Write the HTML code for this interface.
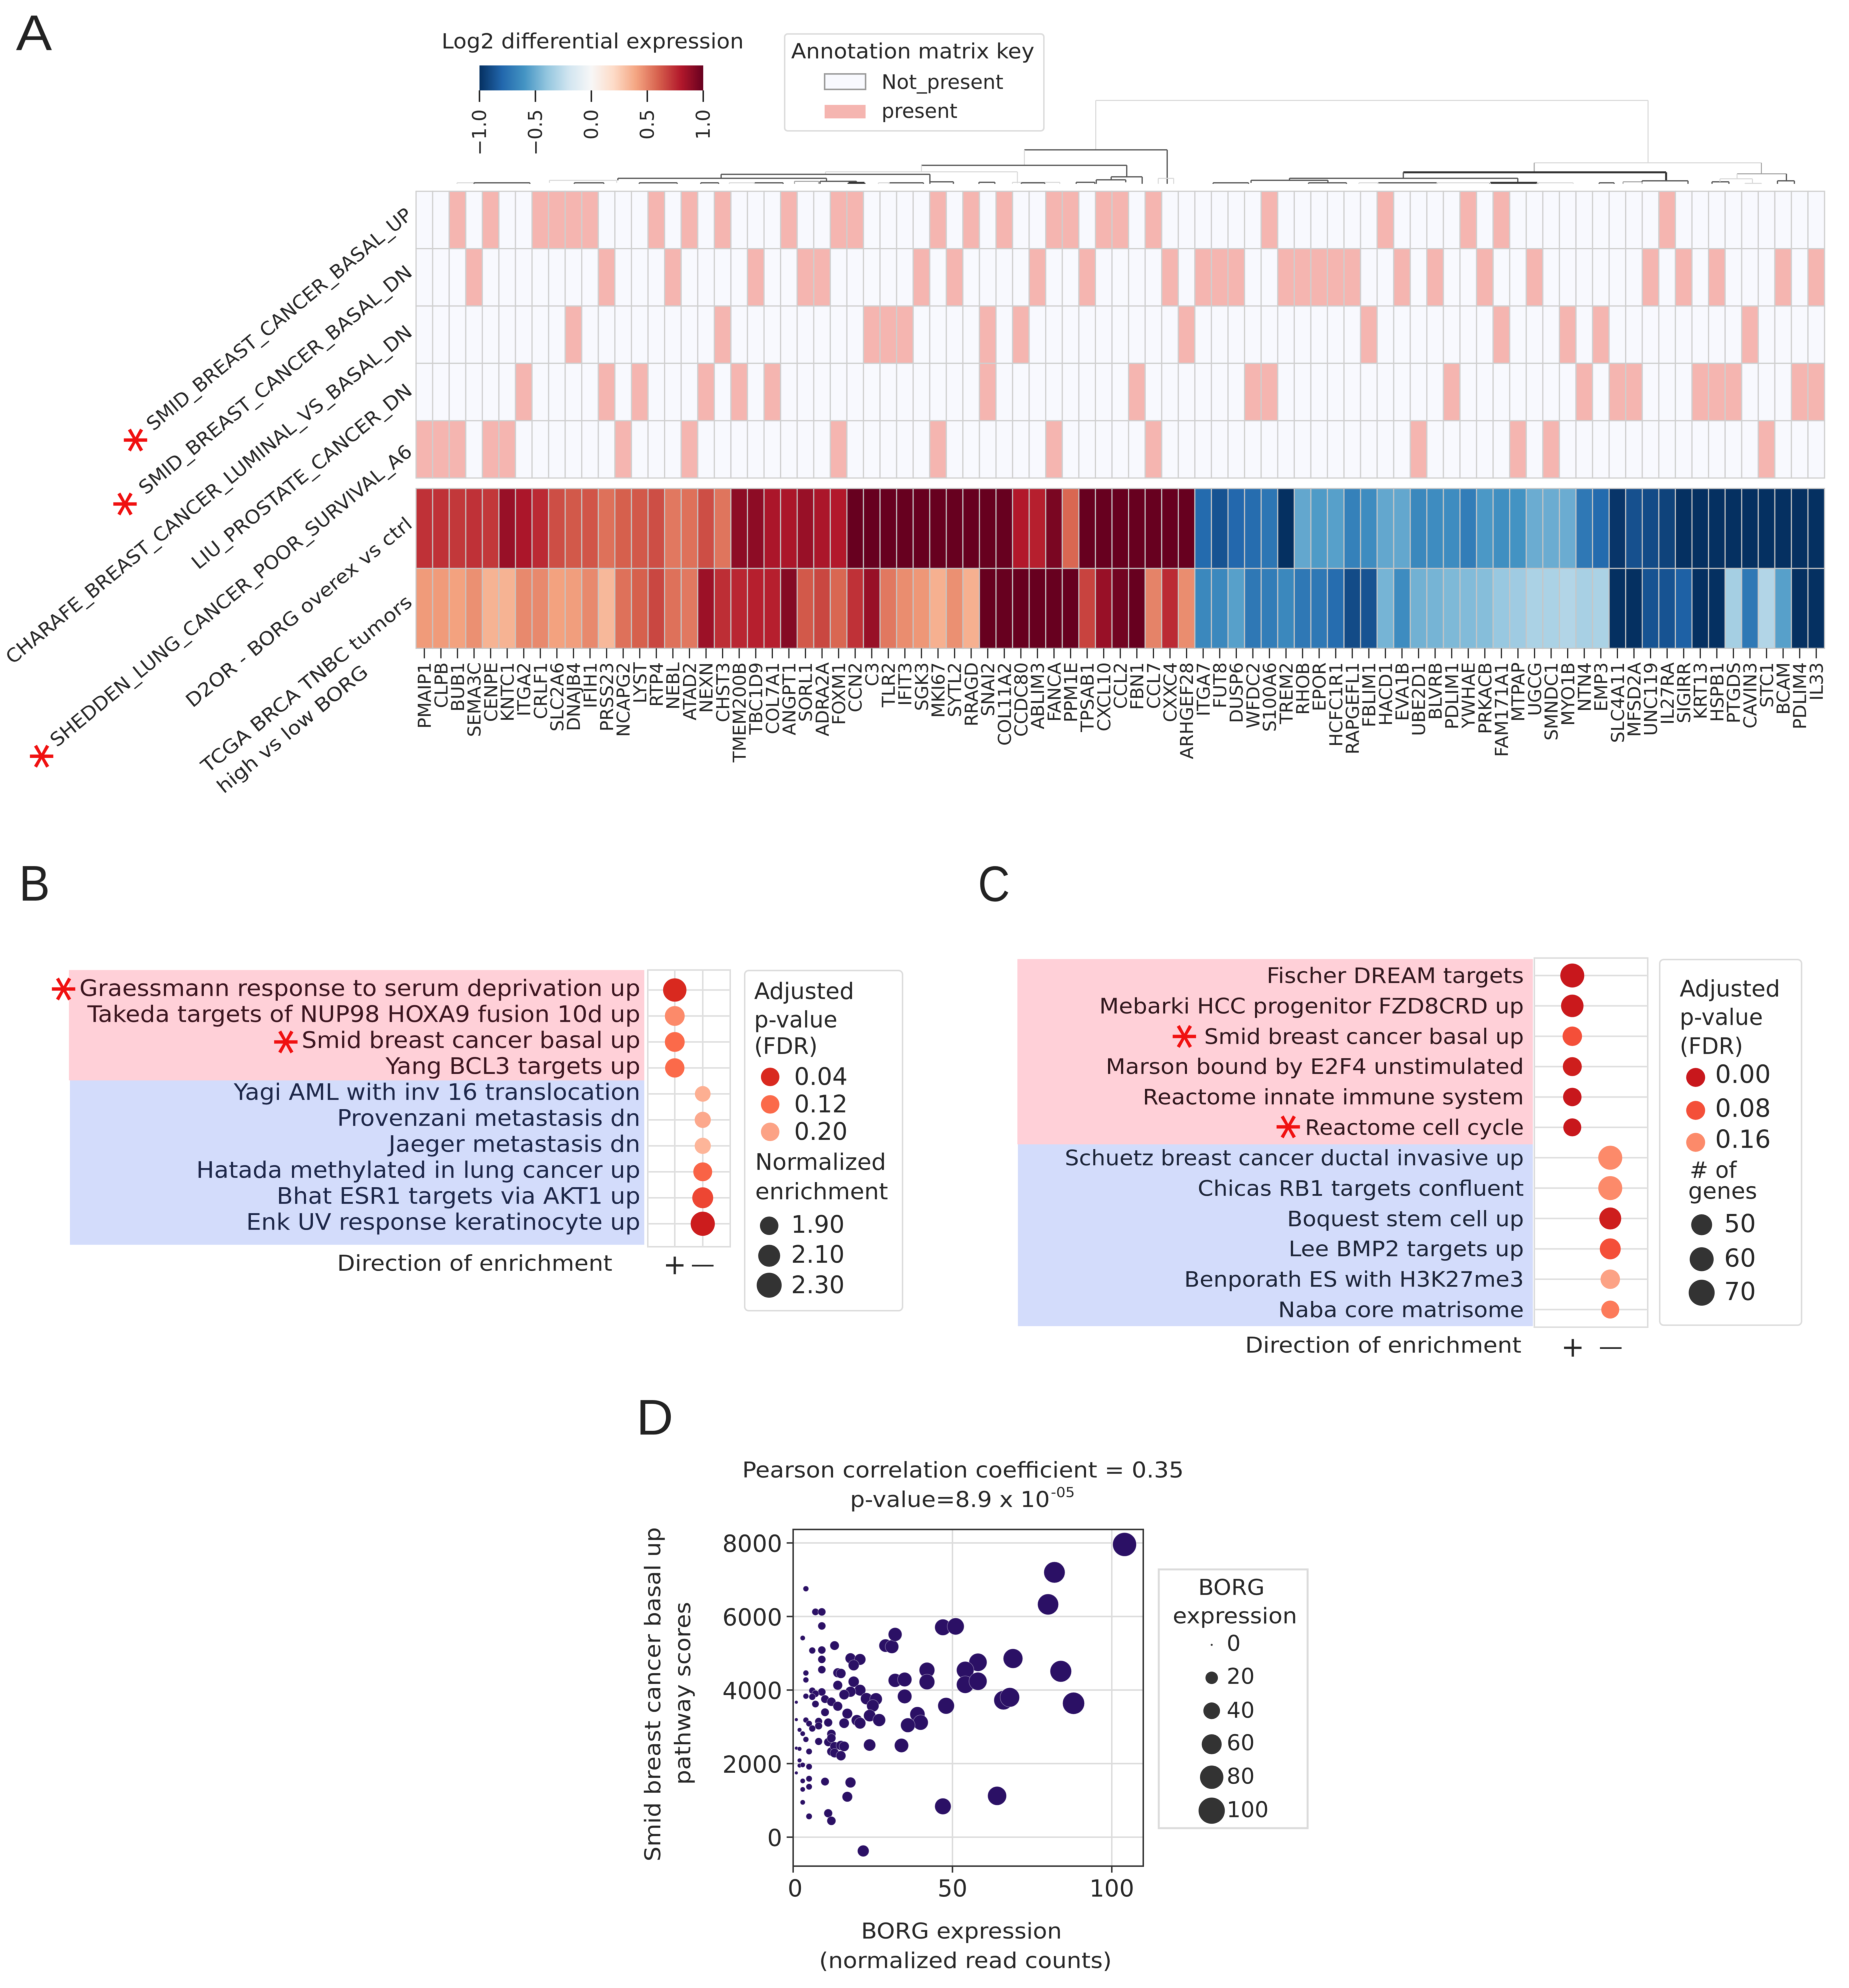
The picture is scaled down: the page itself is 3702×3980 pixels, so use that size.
<!DOCTYPE html>
<html lang="en">
<head>
<meta charset="utf-8">
<title>BORG expression figure</title>
<style>
html,body{margin:0;padding:0;background:#fff;}
svg{display:block;filter:blur(0.8px);}
text{font-family:"DejaVu Sans","Liberation Sans",sans-serif;fill:#262626;}
.letter{font-family:"Liberation Sans","DejaVu Sans",sans-serif;font-size:100px;fill:#222;}
.star{font-size:100px;fill:#f01010;stroke:#f01010;stroke-width:1.2;text-anchor:middle;}
.pk{fill:#3a141e;font-size:45px;text-anchor:end;}
.bl{fill:#1c2648;font-size:45px;text-anchor:end;}
.pk2{fill:#2f161c;font-size:43px;text-anchor:end;}
.bl2{fill:#1c2438;font-size:43px;text-anchor:end;}
.lg{font-size:45px;}
.lv{font-size:48px;}
.lv2{font-size:50px;}
.lbox{fill:#fff;stroke:#dcdcdc;stroke-width:3;}
</style>
</head>
<body>
<svg id="figure" xmlns="http://www.w3.org/2000/svg" width="3702" height="3980" viewBox="0 0 3702 3980">
<defs>
<linearGradient id="rdbu" x1="0" x2="1" y1="0" y2="0">
<stop offset="0" stop-color="#053061"/><stop offset="0.1" stop-color="#2166ac"/><stop offset="0.2" stop-color="#4393c3"/><stop offset="0.3" stop-color="#92c5de"/><stop offset="0.4" stop-color="#d1e5f0"/><stop offset="0.5" stop-color="#f7f7f7"/><stop offset="0.6" stop-color="#fddbc7"/><stop offset="0.7" stop-color="#f4a582"/><stop offset="0.8" stop-color="#d6604d"/><stop offset="0.9" stop-color="#b2182b"/><stop offset="1" stop-color="#67001f"/>
</linearGradient>
</defs>
<rect x="0" y="0" width="3702" height="3980" fill="#fff"/>

<!-- Panel letters -->
<text class="letter" x="32" y="100" textLength="72" lengthAdjust="spacingAndGlyphs">A</text>
<text class="letter" x="38" y="1803" textLength="62" lengthAdjust="spacingAndGlyphs">B</text>
<text class="letter" x="1958" y="1804" textLength="64" lengthAdjust="spacingAndGlyphs">C</text>
<text class="letter" x="1274" y="2872" textLength="74" lengthAdjust="spacingAndGlyphs">D</text>

<!-- Colorbar -->
<g>
<text x="884" y="97" font-size="42" textLength="605" lengthAdjust="spacingAndGlyphs">Log2 differential expression</text>
<rect x="960" y="131" width="448" height="50" fill="url(#rdbu)"/>
<g stroke="#222" stroke-width="3">
<line x1="960" x2="960" y1="181" y2="204"/>
<line x1="1072" x2="1072" y1="181" y2="204"/>
<line x1="1184" x2="1184" y1="181" y2="204"/>
<line x1="1296" x2="1296" y1="181" y2="204"/>
<line x1="1408" x2="1408" y1="181" y2="204"/>
</g>
<g font-size="38" text-anchor="end">
<text transform="translate(973,219) rotate(-90)">−1.0</text>
<text transform="translate(1085,219) rotate(-90)">−0.5</text>
<text transform="translate(1197,219) rotate(-90)">0.0</text>
<text transform="translate(1309,219) rotate(-90)">0.5</text>
<text transform="translate(1421,219) rotate(-90)">1.0</text>
</g>
</g>

<!-- Annotation key -->
<g>
<rect class="lbox" x="1571" y="68" width="519" height="194" rx="6"/>
<text x="1584" y="117" font-size="42" textLength="487" lengthAdjust="spacingAndGlyphs">Annotation matrix key</text>
<rect x="1651" y="148" width="82" height="31" fill="#f8f9fe" stroke="#999" stroke-width="3"/>
<text x="1765" y="178" font-size="40" textLength="244" lengthAdjust="spacingAndGlyphs">Not_present</text>
<rect x="1651" y="210" width="82" height="27" fill="#f5b5b0"/>
<text x="1765" y="236" font-size="40" textLength="152" lengthAdjust="spacingAndGlyphs">present</text>
</g>

<g id="dendrogram" fill="none"></g>
<g id="annotation"></g>
<g id="heatmap"></g>
<g id="geneTicks"></g>

<!-- Row labels -->
<g font-size="38" text-anchor="end">
<text transform="translate(819,424) rotate(-39.5)" dy=".36em" textLength="675" lengthAdjust="spacingAndGlyphs">SMID_BREAST_CANCER_BASAL_UP</text>
<text transform="translate(819,539) rotate(-39.5)" dy=".36em" textLength="695" lengthAdjust="spacingAndGlyphs">SMID_BREAST_CANCER_BASAL_DN</text>
<text transform="translate(819,659) rotate(-39.5)" dy=".36em" textLength="1040" lengthAdjust="spacingAndGlyphs">CHARAFE_BREAST_CANCER_LUMINAL_VS_BASAL_DN</text>
<text transform="translate(819,776) rotate(-39.5)" dy=".36em" textLength="558" lengthAdjust="spacingAndGlyphs">LIU_PROSTATE_CANCER_DN</text>
<text transform="translate(819,898) rotate(-39.5)" dy=".36em" textLength="925" lengthAdjust="spacingAndGlyphs">SHEDDEN_LUNG_CANCER_POOR_SURVIVAL_A6</text>
<text transform="translate(819,1043) rotate(-39.5)" dy=".36em" textLength="573" lengthAdjust="spacingAndGlyphs">D2OR - BORG overex vs ctrl</text>
<text transform="translate(819,1199) rotate(-39.5)" dy=".36em" textLength="533" lengthAdjust="spacingAndGlyphs">TCGA BRCA TNBC tumors</text>
<text transform="translate(731,1339) rotate(-39.5)" dy=".36em" textLength="378" lengthAdjust="spacingAndGlyphs">high vs low BORG</text>
</g>
<text class="star" x="271" y="932" transform="rotate(90 271 881)">*</text>
<text class="star" x="250" y="1060" transform="rotate(90 250 1009)">*</text>
<text class="star" x="83" y="1565" transform="rotate(90 83 1514)">*</text>

<!-- Panel B -->
<g>
<rect x="138" y="1942" width="1152" height="221" fill="#ffd0d8"/>
<rect x="140" y="2163" width="1150" height="329" fill="#d3dcfb"/>
<g id="bGrid"></g>
<text class="pk" x="1282" y="1994" textLength="1123" lengthAdjust="spacingAndGlyphs">Graessmann response to serum deprivation up</text>
<text class="pk" x="1282" y="2046" textLength="1107" lengthAdjust="spacingAndGlyphs">Takeda targets of NUP98 HOXA9 fusion 10d up</text>
<text class="pk" x="1282" y="2098" textLength="678" lengthAdjust="spacingAndGlyphs">Smid breast cancer basal up</text>
<text class="pk" x="1282" y="2150" textLength="510" lengthAdjust="spacingAndGlyphs">Yang BCL3 targets up</text>
<text class="bl" x="1282" y="2202" textLength="814" lengthAdjust="spacingAndGlyphs">Yagi AML with inv 16 translocation</text>
<text class="bl" x="1282" y="2254" textLength="607" lengthAdjust="spacingAndGlyphs">Provenzani metastasis dn</text>
<text class="bl" x="1282" y="2306" textLength="504" lengthAdjust="spacingAndGlyphs">Jaeger metastasis dn</text>
<text class="bl" x="1282" y="2358" textLength="889" lengthAdjust="spacingAndGlyphs">Hatada methylated in lung cancer up</text>
<text class="bl" x="1282" y="2410" textLength="728" lengthAdjust="spacingAndGlyphs">Bhat ESR1 targets via AKT1 up</text>
<text class="bl" x="1282" y="2462" textLength="789" lengthAdjust="spacingAndGlyphs">Enk UV response keratinocyte up</text>
<text class="star" x="127" y="2031" transform="rotate(90 127 1980)">*</text>
<text class="star" x="572" y="2137" transform="rotate(90 572 2086)">*</text>
<text x="675" y="2544" font-size="44" textLength="551" lengthAdjust="spacingAndGlyphs">Direction of enrichment</text>
<text x="1351" y="2551" font-size="56" text-anchor="middle">+</text>
<text x="1407" y="2547" font-size="48" text-anchor="middle">—</text>
<rect class="lbox" x="1491" y="1943" width="316" height="681" rx="8"/>
<text class="lg" x="1510" y="2000" textLength="200" lengthAdjust="spacingAndGlyphs">Adjusted</text>
<text class="lg" x="1510" y="2057">p-value</text>
<text class="lg" x="1510" y="2110">(FDR)</text>
<circle cx="1542" cy="2156" r="18.5" fill="#d9291f"/>
<circle cx="1542" cy="2211" r="18.5" fill="#fb6a4a"/>
<circle cx="1542" cy="2266" r="18.5" fill="#fca285"/>
<text class="lv" x="1590" y="2172">0.04</text>
<text class="lv" x="1590" y="2227">0.12</text>
<text class="lv" x="1590" y="2282">0.20</text>
<text class="lg" x="1512" y="2342" textLength="262" lengthAdjust="spacingAndGlyphs">Normalized</text>
<text class="lg" x="1512" y="2401" textLength="266" lengthAdjust="spacingAndGlyphs">enrichment</text>
<circle cx="1540" cy="2454" r="18.5" fill="#333"/>
<circle cx="1540" cy="2514" r="22" fill="#333"/>
<circle cx="1540" cy="2573" r="25" fill="#333"/>
<text class="lv" x="1584" y="2468">1.90</text>
<text class="lv" x="1584" y="2528">2.10</text>
<text class="lv" x="1584" y="2589">2.30</text>
</g>

<!-- Panel C -->
<g>
<rect x="2037" y="1920" width="1032" height="371" fill="#ffd0d8"/>
<rect x="2038" y="2291" width="1031" height="364" fill="#d3dcfb"/>
<g id="cGrid"></g>
<text class="pk2" x="3051" y="1968" textLength="515" lengthAdjust="spacingAndGlyphs">Fischer DREAM targets</text>
<text class="pk2" x="3051" y="2029" textLength="850" lengthAdjust="spacingAndGlyphs">Mebarki HCC progenitor FZD8CRD up</text>
<text class="pk2" x="3051" y="2090" textLength="640" lengthAdjust="spacingAndGlyphs">Smid breast cancer basal up</text>
<text class="pk2" x="3051" y="2150" textLength="837" lengthAdjust="spacingAndGlyphs">Marson bound by E2F4 unstimulated</text>
<text class="pk2" x="3051" y="2211" textLength="763" lengthAdjust="spacingAndGlyphs">Reactome innate immune system</text>
<text class="pk2" x="3051" y="2272" textLength="438" lengthAdjust="spacingAndGlyphs">Reactome cell cycle</text>
<text class="bl2" x="3051" y="2333" textLength="919" lengthAdjust="spacingAndGlyphs">Schuetz breast cancer ductal invasive up</text>
<text class="bl2" x="3051" y="2394" textLength="653" lengthAdjust="spacingAndGlyphs">Chicas RB1 targets confluent</text>
<text class="bl2" x="3051" y="2455" textLength="474" lengthAdjust="spacingAndGlyphs">Boquest stem cell up</text>
<text class="bl2" x="3051" y="2515" textLength="471" lengthAdjust="spacingAndGlyphs">Lee BMP2 targets up</text>
<text class="bl2" x="3051" y="2576" textLength="680" lengthAdjust="spacingAndGlyphs">Benporath ES with H3K27me3</text>
<text class="bl2" x="3051" y="2637" textLength="492" lengthAdjust="spacingAndGlyphs">Naba core matrisome</text>
<text class="star" x="2371" y="2126" transform="rotate(90 2371 2075)">*</text>
<text class="star" x="2579" y="2307" transform="rotate(90 2579 2256)">*</text>
<text x="2493" y="2708" font-size="44" textLength="553" lengthAdjust="spacingAndGlyphs">Direction of enrichment</text>
<text x="3149" y="2716" font-size="56" text-anchor="middle">+</text>
<text x="3225" y="2712" font-size="48" text-anchor="middle">—</text>
<rect class="lbox" x="3323" y="1921" width="284" height="732" rx="8"/>
<text class="lg" x="3363" y="1995" textLength="201" lengthAdjust="spacingAndGlyphs">Adjusted</text>
<text class="lg" x="3363" y="2052">p-value</text>
<text class="lg" x="3363" y="2110">(FDR)</text>
<circle cx="3395" cy="2157" r="19" fill="#c8171c"/>
<circle cx="3395" cy="2223" r="19" fill="#f44f39"/>
<circle cx="3395" cy="2287" r="19" fill="#fc8a6a"/>
<text class="lv2" x="3434" y="2168">0.00</text>
<text class="lv2" x="3434" y="2236">0.08</text>
<text class="lv2" x="3434" y="2298">0.16</text>
<text class="lg" x="3383" y="2358" textLength="94" lengthAdjust="spacingAndGlyphs"># of</text>
<text class="lg" x="3380" y="2400" textLength="138" lengthAdjust="spacingAndGlyphs">genes</text>
<circle cx="3407" cy="2452" r="21" fill="#333"/>
<circle cx="3407" cy="2521" r="24" fill="#333"/>
<circle cx="3407" cy="2588" r="26" fill="#333"/>
<text class="lv2" x="3452" y="2467">50</text>
<text class="lv2" x="3452" y="2536">60</text>
<text class="lv2" x="3452" y="2603">70</text>
</g>

<!-- Panel D -->
<g>
<text x="1486" y="2958" font-size="44" textLength="884" lengthAdjust="spacingAndGlyphs">Pearson correlation coefficient = 0.35</text>
<text x="1702" y="3017" font-size="44" textLength="400" lengthAdjust="spacingAndGlyphs">p-value=8.9 x 10</text>
<text x="2104" y="2997" font-size="28" textLength="48" lengthAdjust="spacingAndGlyphs">-05</text>
<g id="scatterAxes"></g>
<g id="scatterPoints"></g>
<rect x="1588" y="3062" width="701" height="674" fill="none" stroke="#333" stroke-width="3"/>
<text transform="translate(1322,3392) rotate(-90)" font-size="44" text-anchor="middle" textLength="669" lengthAdjust="spacingAndGlyphs">Smid breast cancer basal up</text>
<text transform="translate(1382,3390) rotate(-90)" font-size="44" text-anchor="middle" textLength="366" lengthAdjust="spacingAndGlyphs">pathway scores</text>
<text x="1724" y="3881" font-size="44" textLength="402" lengthAdjust="spacingAndGlyphs">BORG expression</text>
<text x="1640" y="3940" font-size="44" textLength="586" lengthAdjust="spacingAndGlyphs">(normalized read counts)</text>
<rect x="2320" y="3142" width="298" height="518" fill="#fff" stroke="#dcdcdc" stroke-width="4"/>
<text x="2399" y="3193" font-size="44" textLength="133" lengthAdjust="spacingAndGlyphs">BORG</text>
<text x="2348" y="3250" font-size="44" textLength="249" lengthAdjust="spacingAndGlyphs">expression</text>
<circle cx="2426" cy="3293" r="2" fill="#333"/>
<circle cx="2426" cy="3359" r="12.5" fill="#333"/>
<circle cx="2426" cy="3425" r="16.7" fill="#333"/>
<circle cx="2426" cy="3492" r="20" fill="#333"/>
<circle cx="2426" cy="3558" r="23.4" fill="#333"/>
<circle cx="2426" cy="3625" r="26.3" fill="#333"/>
<g font-size="44">
<text x="2456" y="3305">0</text>
<text x="2456" y="3371">20</text>
<text x="2456" y="3439">40</text>
<text x="2456" y="3504">60</text>
<text x="2456" y="3571">80</text>
<text x="2456" y="3638">100</text>
</g>
</g>
</svg>

<script>
// ---------- Panel A data ----------
const genes = ["PMAIP1","CLPB","BUB1","SEMA3C","CENPE","KNTC1","ITGA2","CRLF1","SLC2A6","DNAJB4","IFIH1","PRSS23","NCAPG2","LYST","RTP4","NEBL","ATAD2","NEXN","CHST3","TMEM200B","TBC1D9","COL7A1","ANGPT1","SORL1","ADRA2A","FOXM1","CCN2","C3","TLR2","IFIT3","SGK3","MKI67","SYTL2","RRAGD","SNAI2","COL11A2","CCDC80","ABLIM3","FANCA","PPM1E","TPSAB1","CXCL10","CCL2","FBN1","CCL7","CXXC4","ARHGEF28","ITGA7","FUT8","DUSP6","WFDC2","S100A6","TREM2","RHOB","EPOR","HCFC1R1","RAPGEFL1","FBLIM1","HACD1","EVA1B","UBE2D1","BLVRB","PDLIM1","YWHAE","PRKACB","FAM171A1","MTPAP","UGCG","SMNDC1","MYO1B","NTN4","EMP3","SLC4A11","MFSD2A","UNC119","IL27RA","SIGIRR","KRT13","HSPB1","PTGDS","CAVIN3","STC1","BCAM","PDLIM4","IL33"];
// gene-set membership, as column indices into genes
const setSmidUp = [2,4,7,8,9,10,14,16,18,22,25,26,31,33,35,38,39,41,42,44,51,58,63,65,75];
const setSmidDn = [3,11,15,20,23,24,30,32,37,40,45,47,48,49,52,53,54,55,56,59,61,64,67,74,76,78,82,84];
const setCharafe = [9,18,27,28,29,34,36,46,57,65,69,71,80];
const setLiu = [6,11,13,17,19,21,34,43,50,51,62,70,72,73,77,78,79,83,84];
const setShedden = [0,1,2,4,5,12,16,25,31,38,44,60,66,68,81];
// log2 differential expression
const log2D2or = [.73,.73,.71,.73,.71,.87,.82,.75,.65,.62,.63,.55,.6,.62,.65,.53,.55,.65,.54,.9,.9,.82,.82,.87,.82,.8,1,1,1,1,1,1,1,1,1,1,.8,.78,.95,.58,1,1,1,1,1,1,1,-.78,-.87,-.79,-.77,-.73,-1,-.52,-.57,-.55,-.68,-.63,-.52,-.52,-.65,-.63,-.63,-.7,-.58,-.62,-.6,-.5,-.5,-.5,-.72,-.78,-.98,-.88,-.9,-.93,-1,-1,-1,-1,-1,-1,-1,-1,-1];
const log2Tcga = [.43,.43,.41,.46,.35,.35,.48,.48,.41,.42,.48,.33,.55,.6,.67,.55,.53,.86,.74,.76,.78,.78,.92,.62,.67,.58,.73,.87,.53,.47,.44,.36,.46,.36,1,1,1,1,1,1,.68,.87,.97,1,.5,.75,.47,-.65,-.65,-.55,-.72,-.7,-.65,-.72,-.72,-.77,-.9,-.87,-.47,-.63,-.48,-.47,-.45,-.44,-.43,-.38,-.36,-.32,-.32,-.3,-.33,-.32,-1,-1,-.87,-.87,-.82,-1,-1,-.34,-.72,-.3,-.55,-1,-1];
// dendrogram merges: [left column, right column, merge distance, left child distance, right child distance]
const dendroLinks = [
[41.02,74.35,167,68,42],[36.71,45.33,68,37,0],[30.5,42.89,37,24,14],[24.71,36.29,24,19,1],[18.41,31.01,19,11,4],[12.18,24.77,11,7,5],[8.05,12.11,7,2,2],
[2.47,3.5,2,0,0],[3.5,6.87,2,0,0],[9.55,11.33,2,0,0],[13.47,15.76,2,0,0],[17.18,18.26,2,0,0],[20.43,22.15,2,0,0],[18.9,20.43,2,0,0],[22.84,24.3,5,0,0],[24.38,26.58,5,0,2],[26.1,27.06,2,0,0],[28.57,30.62,2,0,0],[27.9,28.57,2,0,0],[31.01,32.43,4,0,0],[33.97,34.93,3,0,0],[35.99,38.85,3,0,0],[36.53,37.94,2,0,0],[39.84,40.96,3,0,0],[41.05,42.83,8,0,3],[41.95,43.82,14,8,0],[44.79,45.72,11,0,0],
[67.48,81.19,42,23,20],[59.58,75.44,23,11,6],[52.71,66.49,11,7,1],[50.39,55.03,7,2,2],[48.1,50.24,2,0,0],[53.86,56.15,2,0,0],[58.07,61.6,2,0,0],[56.9,58.07,2,0,0],[64.83,67.66,2,0,0],[67.66,69.83,2,0,0],[61.6,64.83,2,0,0],[71.4,72.3,2,0,0],[72.84,73.99,4,0,0],[73.99,76.76,6,4,0],[78.21,79.23,4,0,0],[78.69,80.65,10,4,1],[80.2,81.19,1,0,0],[79.72,82.7,20,10,6],[82.16,83.18,6,0,0]];
const dendroTone = ["lll","dld","dld","lll","ddd","ddd","lll","lll","ddd","ddd","ddd","ddd","ddd","lll","mmm","ddd","DDD","ddd","lll","ddd","ddd","lll","ddd","ddd","ddd","ddd","lll","lmm","DdD","ddd","ddd","ddd","ddd","ddd","lll","DDD","lll","lll","ddd","mmm","ddd","ddd","lll","lll","mld","ddd"];

// ---------- Panel B data ----------
const bDirection = [0,0,0,0,1,1,1,1,1,1];
const bFdr = [.04,.16,.12,.12,.22,.21,.23,.11,.07,.01];
const bNes = [2.2,1.98,1.98,1.95,1.72,1.75,1.75,1.92,2.05,2.25];

// ---------- Panel C data ----------
const cDirection = [0,0,0,0,0,0,1,1,1,1,1,1];
const cFdr = [0,.005,.08,.015,0,0,.16,.16,.015,.08,.2,.14];
const cGenes = [62,56,44,42,40,38,62,62,54,50,44,38];

// ---------- Panel D data ----------
const borgExpression = [4,7,9,9,3,13,6,9,9,9,4,4,6,9,7,4,6,1,7,10,12,14,10,4,1,5,8,8,11,6,2,3,4,8,12,11,12,1,2,5,2,2,3,5,1,5,3,5,3,3,5,10,18,17,11,12,22,47,64,18,21,19,14,15,14,19,21,18,16,23,26,25,17,24,27,20,16,21,24,12,13,13,15,16,15,29,31,32,32,35,35,42,42,39,40,36,34,48,47,51,58,54,54,58,69,66,68,104,82,80,84,88];
const pathwayScore = [6755,6125,6125,5743,5415,5209,5076,5088,4833,4554,4463,4275,3984,3948,3900,3833,3815,3669,3620,3754,3681,3560,3396,3184,3196,3087,3148,3026,3117,2954,2917,2814,2657,2602,2808,2584,2693,2420,2402,2329,2087,1947,1965,1917,1747,1589,1529,1371,1299,947,565,1511,1487,1098,650,444,-375,838,1123,4863,4833,4676,4470,4451,4130,4227,3997,3954,3875,3766,3754,3572,3360,3305,3184,3178,3099,3099,2505,2329,2469,2287,2493,2469,2214,5209,5179,5512,4263,4287,3827,4542,4221,3342,3117,3044,2493,3572,5706,5731,4754,4542,4148,4239,4857,3724,3802,7959,7200,6330,4510,3640];
const scatterXTicks = [0,50,100];
const scatterYTicks = [0,2000,4000,6000,8000];

// ---------- Helpers ----------
const NS = "http://www.w3.org/2000/svg";
function mk(tag, attrs, parent){
  const el = document.createElementNS(NS, tag);
  for (const k in attrs) el.setAttribute(k, attrs[k]);
  parent.appendChild(el);
  return el;
}
function hex(c){ return [parseInt(c.slice(1,3),16),parseInt(c.slice(3,5),16),parseInt(c.slice(5,7),16)]; }
function ramp(stops, v){
  if (v <= stops[0][0]) return stops[0][1];
  for (let i=1;i<stops.length;i++){
    if (v <= stops[i][0]){
      const t=(v-stops[i-1][0])/(stops[i][0]-stops[i-1][0]);
      const a=hex(stops[i-1][1]), b=hex(stops[i][1]);
      return "rgb("+a.map((x,j)=>Math.round(x+(b[j]-x)*t)).join(",")+")";
    }
  }
  return stops[stops.length-1][1];
}
const rdbuStops=[[-1,"#053061"],[-.8,"#2166ac"],[-.6,"#4393c3"],[-.4,"#92c5de"],[-.2,"#d1e5f0"],[0,"#f7f7f7"],[.2,"#fddbc7"],[.4,"#f4a582"],[.6,"#d6604d"],[.8,"#b2182b"],[1,"#67001f"]];
const fdrStops=[[0,"#c8171c"],[.04,"#d9291f"],[.08,"#f44f39"],[.12,"#fb6a4a"],[.16,"#fc8a6a"],[.2,"#fca285"],[.24,"#fdbb9f"]];

// Panel A axis functions
const colW = (3653-833)/genes.length;
const colX = c => 833 + colW*c;
const dendroY = h => 368 - h;
const annoRowH = (957-383)/5;

// Dendrogram
const toneColor = {l:"#d8d8d8",m:"#a0a0a0",d:"#555555",D:"#333333"};
const toneWidth = {l:2,m:2,d:2.5,D:4};
const dendroGroup = document.getElementById("dendrogram");
dendroLinks.forEach(function(link, i){
  const tone = dendroTone[i];
  const x1 = colX(link[0]), x2 = colX(link[1]), top = dendroY(link[2]);
  const bar = mk("line",{x1:x1,x2:x2,y1:top,y2:top,stroke:toneColor[tone[0]],"stroke-width":toneWidth[tone[0]]},dendroGroup);
  
  
  const legL = mk("line",{x1:x1,x2:x1,y1:top,y2:dendroY(link[3]),stroke:toneColor[tone[1]],"stroke-width":toneWidth[tone[1]]},dendroGroup);
  
  
  const legR = mk("line",{x1:x2,x2:x2,y1:top,y2:dendroY(link[4]),stroke:toneColor[tone[2]],"stroke-width":toneWidth[tone[2]]},dendroGroup);
  
  
});

// Annotation matrix
const annotationSets = [setSmidUp,setSmidDn,setCharafe,setLiu,setShedden];
const annoGroup = document.getElementById("annotation");
annotationSets.forEach(function(set, r){
  genes.forEach(function(g, c){
    const present = set.indexOf(c) >= 0;
    const cell = mk("rect",{x:colX(c),y:383+annoRowH*r,width:colW,height:annoRowH,fill:present?"#f5b5b0":"#f8f9fe",stroke:"#cfcfcf","stroke-width":2.4},annoGroup);
    
    
  });
});

// Expression heatmap
const heatRows = [log2D2or,log2Tcga];
const heatRowY = [978,1138];
const heatGroup = document.getElementById("heatmap");
heatRows.forEach(function(values, r){
  values.forEach(function(v, c){
    const cell = mk("rect",{x:colX(c),y:heatRowY[r],width:colW,height:160,fill:ramp(rdbuStops,v),stroke:"#c6c6c6","stroke-width":2.2},heatGroup);
    
    
  });
});

// Gene ticks + labels
const geneGroup = document.getElementById("geneTicks");
genes.forEach(function(g, c){
  const cx = colX(c+0.5);
  const tick = mk("line",{x1:cx,x2:cx,y1:1298,y2:1318,stroke:"#222","stroke-width":2.4},geneGroup);
  
  
  const label = mk("text",{transform:"translate("+(cx+13)+",1326) rotate(-90)","font-size":36,"text-anchor":"end"},geneGroup);
  label.textContent = g;
  
  
});

// Panel B
const bRowY = i => 1982 + 52*i;
const bColX = [1351,1407];
const bRadius = n => 18.6 + (n-1.9)*16;
const bGrid = document.getElementById("bGrid");
const bFrame = mk("rect",{x:1297,y:1942,width:165,height:554,fill:"#fff",stroke:"#dcdcdc","stroke-width":3},bGrid);


bColX.forEach(function(x){
  const line = mk("line",{x1:x,x2:x,y1:1942,y2:2496,stroke:"#dedede","stroke-width":3},bGrid);
  
  
});
bFdr.forEach(function(f,i){
  const line = mk("line",{x1:1297,x2:1462,y1:bRowY(i),y2:bRowY(i),stroke:"#dedede","stroke-width":3},bGrid);
  
  
});
bFdr.forEach(function(f,i){
  const dot = mk("circle",{cx:bColX[bDirection[i]],cy:bRowY(i),r:bRadius(bNes[i]),fill:ramp(fdrStops,f)},bGrid);
  
  
});

// Panel C
const cRowY = i => 1953 + 60.8*i;
const cColX = [3148,3224];
const cRadius = n => 21 + (n-50)*0.25;
const cGrid = document.getElementById("cGrid");
const cFrame = mk("rect",{x:3072,y:1918,width:227,height:739,fill:"#fff",stroke:"#dcdcdc","stroke-width":3},cGrid);


cFdr.forEach(function(f,i){
  const line = mk("line",{x1:3072,x2:3299,y1:cRowY(i),y2:cRowY(i),stroke:"#dedede","stroke-width":3},cGrid);
  
  
});
cFdr.forEach(function(f,i){
  const dot = mk("circle",{cx:cColX[cDirection[i]],cy:cRowY(i),r:cRadius(cGenes[i]),fill:ramp(fdrStops,f)},cGrid);
  
  
});

// Panel D
const scatterX = v => 1588 + 6.38*v;
const scatterY = v => 3678 - 0.073625*v;
const scatterR = v => Math.max(2.5, 2.2*Math.sqrt(v) + 1.2);
const axes = document.getElementById("scatterAxes");
scatterYTicks.forEach(function(t){
  const y = scatterY(t);
  const grid = mk("line",{x1:1588,x2:2289,y1:y,y2:y,stroke:"#dcdcdc","stroke-width":3},axes);
  
  
  const tick = mk("line",{x1:1575,x2:1588,y1:y,y2:y,stroke:"#333","stroke-width":3},axes);
  
  
  const label = mk("text",{x:1566,y:y+18,"font-size":47,"text-anchor":"end"},axes);
  label.textContent = String(t);
  
  
});
scatterXTicks.forEach(function(t){
  const x = scatterX(t);
  const grid = mk("line",{x1:x,x2:x,y1:3062,y2:3736,stroke:"#dcdcdc","stroke-width":3},axes);
  
  
  const tick = mk("line",{x1:x,x2:x,y1:3736,y2:3749,stroke:"#333","stroke-width":3},axes);
  
  
  const label = mk("text",{x:x+(t===0?4:0),y:3797,"font-size":47,"text-anchor":"middle"},axes);
  label.textContent = String(t);
  
  
});
const pointsGroup = document.getElementById("scatterPoints");
borgExpression.forEach(function(v,i){
  const pt = mk("circle",{cx:scatterX(v),cy:scatterY(pathwayScore[i]),r:scatterR(v),fill:"#2b1065",stroke:"#ffffff","stroke-opacity":0.45,"stroke-width":1},pointsGroup);
  
  
});
</script>
</body>
</html>
